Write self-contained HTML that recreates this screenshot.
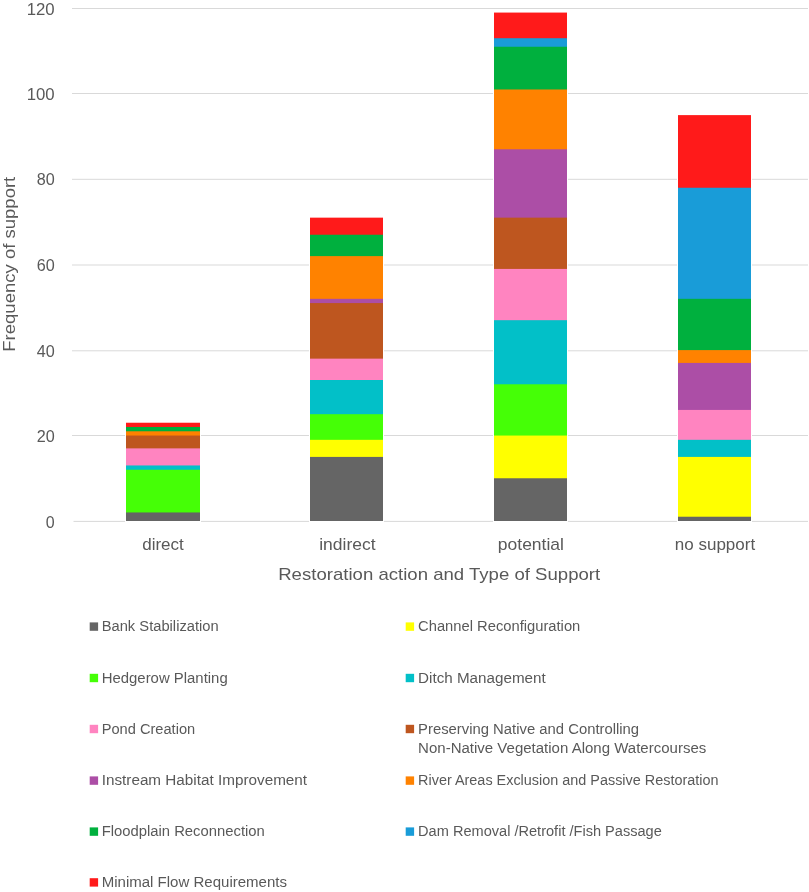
<!DOCTYPE html>
<html><head><meta charset="utf-8"><title>Frequency of support by restoration action</title>
<style>
html,body{margin:0;padding:0;background:#fff;}
body{width:809px;height:892px;overflow:hidden;}
svg{display:block;will-change:transform;}
.t{font-family:"Liberation Sans",sans-serif;font-size:17px;fill:#595959;}
.l{font-family:"Liberation Sans",sans-serif;font-size:14px;fill:#595959;}
</style></head>
<body>
<svg width="809" height="892" viewBox="0 0 809 892">
<rect width="809" height="892" fill="#fff"/>
<rect x="72" y="8.00" width="736" height="1" fill="#D9D9D9"/>
<rect x="72" y="93.00" width="736" height="1" fill="#D9D9D9"/>
<rect x="72" y="178.80" width="736" height="1" fill="#D9D9D9"/>
<rect x="72" y="264.50" width="736" height="1" fill="#D9D9D9"/>
<rect x="72" y="350.30" width="736" height="1" fill="#D9D9D9"/>
<rect x="72" y="435.00" width="736" height="1" fill="#D9D9D9"/>
<rect x="73.5" y="520.90" width="734.5" height="1" fill="#D9D9D9"/>
<rect x="125" y="422.73" width="76" height="99.77" fill="#fff"/>
<rect x="309" y="217.65" width="75" height="304.85" fill="#fff"/>
<rect x="493" y="12.57" width="75" height="509.93" fill="#fff"/>
<rect x="677" y="115.11" width="75" height="407.39" fill="#fff"/>
<rect x="126" y="422.73" width="74" height="98.27" fill="#FF1A1A"/>
<rect x="126" y="427.00" width="74" height="94.00" fill="#00B03E"/>
<rect x="126" y="431.28" width="74" height="89.72" fill="#FF8200"/>
<rect x="126" y="435.55" width="74" height="85.45" fill="#BE561F"/>
<rect x="126" y="448.37" width="74" height="72.63" fill="#FF84C0"/>
<rect x="126" y="465.46" width="74" height="55.54" fill="#02C0C8"/>
<rect x="126" y="469.73" width="74" height="51.27" fill="#45FF06"/>
<rect x="126" y="512.46" width="74" height="8.54" fill="#656565"/>
<rect x="310" y="217.65" width="73" height="303.35" fill="#FF1A1A"/>
<rect x="310" y="234.74" width="73" height="286.26" fill="#00B03E"/>
<rect x="310" y="256.11" width="73" height="264.89" fill="#FF8200"/>
<rect x="310" y="298.83" width="73" height="222.17" fill="#AC4EA6"/>
<rect x="310" y="303.10" width="73" height="217.90" fill="#BE561F"/>
<rect x="310" y="358.64" width="73" height="162.36" fill="#FF84C0"/>
<rect x="310" y="380.01" width="73" height="140.99" fill="#02C0C8"/>
<rect x="310" y="414.19" width="73" height="106.81" fill="#45FF06"/>
<rect x="310" y="439.82" width="73" height="81.18" fill="#FFFF00"/>
<rect x="310" y="456.91" width="73" height="64.09" fill="#656565"/>
<rect x="494" y="12.57" width="73" height="508.43" fill="#FF1A1A"/>
<rect x="494" y="38.21" width="73" height="482.79" fill="#199CD8"/>
<rect x="494" y="46.75" width="73" height="474.25" fill="#00B03E"/>
<rect x="494" y="89.48" width="73" height="431.52" fill="#FF8200"/>
<rect x="494" y="149.29" width="73" height="371.71" fill="#AC4EA6"/>
<rect x="494" y="217.65" width="73" height="303.35" fill="#BE561F"/>
<rect x="494" y="268.92" width="73" height="252.08" fill="#FF84C0"/>
<rect x="494" y="320.19" width="73" height="200.81" fill="#02C0C8"/>
<rect x="494" y="384.28" width="73" height="136.72" fill="#45FF06"/>
<rect x="494" y="435.55" width="73" height="85.45" fill="#FFFF00"/>
<rect x="494" y="478.27" width="73" height="42.73" fill="#656565"/>
<rect x="678" y="115.11" width="73" height="405.89" fill="#FF1A1A"/>
<rect x="678" y="187.75" width="73" height="333.25" fill="#199CD8"/>
<rect x="678" y="298.83" width="73" height="222.17" fill="#00B03E"/>
<rect x="678" y="350.10" width="73" height="170.90" fill="#FF8200"/>
<rect x="678" y="362.92" width="73" height="158.08" fill="#AC4EA6"/>
<rect x="678" y="409.92" width="73" height="111.08" fill="#FF84C0"/>
<rect x="678" y="439.82" width="73" height="81.18" fill="#02C0C8"/>
<rect x="678" y="456.91" width="73" height="64.09" fill="#FFFF00"/>
<rect x="678" y="516.73" width="73" height="4.27" fill="#656565"/>
<text x="54.7" y="14.60" text-anchor="end" class="t" textLength="28.0" lengthAdjust="spacingAndGlyphs">120</text>
<text x="54.7" y="99.60" text-anchor="end" class="t" textLength="28.0" lengthAdjust="spacingAndGlyphs">100</text>
<text x="54.7" y="185.40" text-anchor="end" class="t" textLength="18.0" lengthAdjust="spacingAndGlyphs">80</text>
<text x="54.7" y="271.10" text-anchor="end" class="t" textLength="18.0" lengthAdjust="spacingAndGlyphs">60</text>
<text x="54.7" y="356.90" text-anchor="end" class="t" textLength="18.0" lengthAdjust="spacingAndGlyphs">40</text>
<text x="54.7" y="441.60" text-anchor="end" class="t" textLength="18.0" lengthAdjust="spacingAndGlyphs">20</text>
<text x="54.7" y="527.50" text-anchor="end" class="t" textLength="8.9" lengthAdjust="spacingAndGlyphs">0</text>
<text x="163.0" y="550.4" text-anchor="middle" class="t">direct</text>
<text x="347.4" y="550.4" text-anchor="middle" class="t" textLength="56.4" lengthAdjust="spacingAndGlyphs">indirect</text>
<text x="530.9" y="550.4" text-anchor="middle" class="t" textLength="66.2" lengthAdjust="spacingAndGlyphs">potential</text>
<text x="715.0" y="550.4" text-anchor="middle" class="t">no support</text>
<text x="439.2" y="580.1" text-anchor="middle" class="t" style="font-size:17px" textLength="322" lengthAdjust="spacingAndGlyphs">Restoration action and Type of Support</text>
<text transform="translate(14.6,264.25) rotate(-90)" x="0" y="0" text-anchor="middle" class="t" style="font-size:16.5px" textLength="175" lengthAdjust="spacingAndGlyphs">Frequency of support</text>
<rect x="89.7" y="622.40" width="8.4" height="8.4" fill="#656565"/>
<text x="101.7" y="631.10" class="l" textLength="117" lengthAdjust="spacingAndGlyphs">Bank Stabilization</text>
<rect x="89.7" y="673.80" width="8.4" height="8.4" fill="#45FF06"/>
<text x="101.7" y="682.50" class="l" textLength="126" lengthAdjust="spacingAndGlyphs">Hedgerow Planting</text>
<rect x="89.7" y="724.80" width="8.4" height="8.4" fill="#FF84C0"/>
<text x="101.7" y="733.50" class="l" textLength="93.5" lengthAdjust="spacingAndGlyphs">Pond Creation</text>
<rect x="89.7" y="776.40" width="8.4" height="8.4" fill="#AC4EA6"/>
<text x="101.7" y="785.10" class="l" textLength="205.4" lengthAdjust="spacingAndGlyphs">Instream Habitat Improvement</text>
<rect x="89.7" y="827.40" width="8.4" height="8.4" fill="#00B03E"/>
<text x="101.7" y="836.10" class="l" textLength="163.1" lengthAdjust="spacingAndGlyphs">Floodplain Reconnection</text>
<rect x="89.7" y="878.20" width="8.4" height="8.4" fill="#FF1A1A"/>
<text x="101.7" y="886.90" class="l" textLength="185.3" lengthAdjust="spacingAndGlyphs">Minimal Flow Requirements</text>
<rect x="405.7" y="622.40" width="8.4" height="8.4" fill="#FFFF00"/>
<text x="418.1" y="631.10" class="l" textLength="162.2" lengthAdjust="spacingAndGlyphs">Channel Reconfiguration</text>
<rect x="405.7" y="673.80" width="8.4" height="8.4" fill="#02C0C8"/>
<text x="418.1" y="682.50" class="l" textLength="127.6" lengthAdjust="spacingAndGlyphs">Ditch Management</text>
<rect x="405.7" y="724.80" width="8.4" height="8.4" fill="#BE561F"/>
<text x="418.1" y="733.50" class="l" textLength="221" lengthAdjust="spacingAndGlyphs">Preserving Native and Controlling</text>
<text x="418.1" y="752.80" class="l" textLength="288.2" lengthAdjust="spacingAndGlyphs">Non-Native Vegetation Along Watercourses</text>
<rect x="405.7" y="776.40" width="8.4" height="8.4" fill="#FF8200"/>
<text x="418.1" y="785.10" class="l" textLength="300.4" lengthAdjust="spacingAndGlyphs">River Areas Exclusion and Passive Restoration</text>
<rect x="405.7" y="827.40" width="8.4" height="8.4" fill="#199CD8"/>
<text x="418.1" y="836.10" class="l" textLength="243.7" lengthAdjust="spacingAndGlyphs">Dam Removal /Retrofit /Fish Passage</text>
</svg>
</body></html>
